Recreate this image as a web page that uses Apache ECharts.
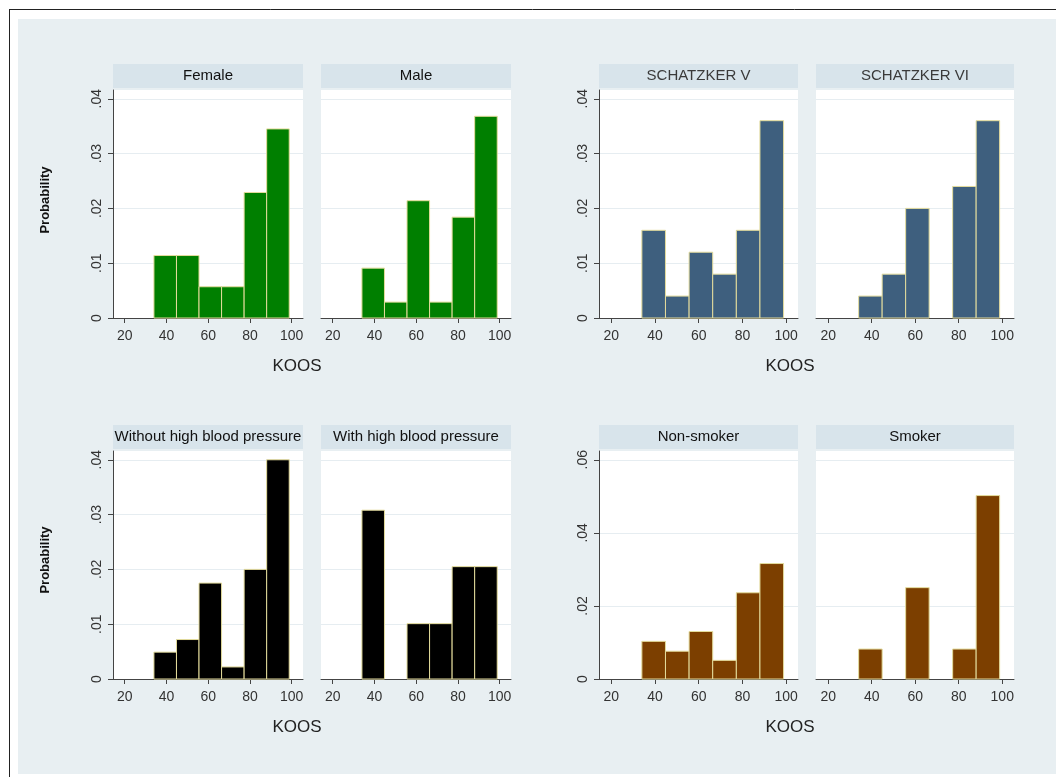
<!DOCTYPE html>
<html>
<head>
<meta charset="utf-8">
<script src="https://cdn.jsdelivr.net/npm/echarts@6/dist/echarts.min.js"></script>
<style>
  html, body { margin: 0; padding: 0; background: #fff; overflow: hidden; }
  #chart { width: 1056px; height: 777px; }
</style>
</head>
<body>
<div id="chart"></div>
<script>
// histogram bins (KOOS) and tick labels
var binEdges = [34, 44.8, 55.6, 66.4, 77.2, 88, 98.8];
var xTicks = [20, 40, 60, 80, 100];
var yTicks04 = [0, 0.01, 0.02, 0.03, 0.04];
var yTicks06 = [0, 0.02, 0.04, 0.06];

var panelNames = ['Female', 'Male', 'SCHATZKER V', 'SCHATZKER VI',
  'Without high blood pressure', 'With high blood pressure', 'Non-smoker', 'Smoker'];

// probability per bin
var female = [0.0114, 0.0114, 0.0057, 0.0057, 0.0229, 0.0345];
var male = [0.0091, 0.0029, 0.0214, 0.0029, 0.0184, 0.0368];
var schatzkerV = [0.016, 0.004, 0.012, 0.008, 0.016, 0.036];
var schatzkerVI = [0.004, 0.008, 0.020, 0, 0.024, 0.036];
var withoutHbp = [0.0049, 0.0072, 0.0175, 0.0022, 0.020, 0.040];
var withHbp = [0.0308, 0, 0.0101, 0.0101, 0.0205, 0.0205];
var nonSmoker = [0.0103, 0.0076, 0.013, 0.0051, 0.0236, 0.0316];
var smoker = [0.0082, 0, 0.025, 0, 0.0082, 0.0502];

var panelData = [female, male, schatzkerV, schatzkerVI, withoutHbp, withHbp, nonSmoker, smoker];
var barColors = ['#007f00', '#007f00', '#3e5f7e', '#3e5f7e', '#000000', '#000000', '#7c3f00', '#7c3f00'];

var cols = [{ left: 113, width: 190 }, { left: 321, width: 190 }, { left: 599, width: 199 }, { left: 816, width: 198 }];
var rows = [{ top: 90, height: 228 }, { top: 451, height: 228 }];
var fontFamily = '"Liberation Sans", Arial, sans-serif';

function fmtProb (v) {
  if (v === 0) return '0';
  return String(+v.toFixed(2)).replace(/^0/, '');
}

function renderBar (params, api) {
  var h = api.value(2);
  if (!h) return null;
  var p0 = api.coord([api.value(0), h]);
  var p1 = api.coord([api.value(1), 0]);
  return {
    type: 'rect',
    shape: { x: p0[0], y: p0[1], width: p1[0] - p0[0], height: p1[1] - p0[1] },
    style: { fill: api.visual('color'), stroke: '#e4dc9c', lineWidth: 1 }
  };
}

var grids = [], xAxes = [], yAxes = [], series = [];

// page frame: light background with black rule on the top and left
var graphics = [
  { type: 'rect', z: -10, shape: { x: 18, y: 19, width: 1038, height: 755 }, style: { fill: '#e8eff2' } },
  { type: 'line', z: -10, shape: { x1: 9, y1: 9.5, x2: 1056, y2: 9.5 }, style: { stroke: '#222', lineWidth: 1 } },
  { type: 'line', z: -10, shape: { x1: 9.5, y1: 9, x2: 9.5, y2: 777 }, style: { stroke: '#222', lineWidth: 1 } }
];

panelData.forEach(function (values, i) {
  var row = rows[i < 4 ? 0 : 1];
  var col = cols[i % 4];
  var firstOfPair = (i % 2 === 0);
  var yTicks = i >= 6 ? yTicks06 : yTicks04;
  var step = yTicks[1];
  var yMax = yTicks[yTicks.length - 1] * 1.04;

  grids.push({
    left: col.left, top: row.top, width: col.width, height: row.height,
    show: true, backgroundColor: '#ffffff', borderWidth: 0
  });

  xAxes.push({
    type: 'value', gridIndex: i, min: 14.4, max: 105.4,
    axisLine: { show: true, lineStyle: { color: '#444', width: 1 } },
    axisTick: { show: true, length: 5, customValues: xTicks, lineStyle: { color: '#444' } },
    axisLabel: { customValues: xTicks, margin: 11, fontSize: 14, color: '#333', fontFamily: fontFamily },
    splitLine: { show: false }
  });

  yAxes.push({
    type: 'value', gridIndex: i, min: 0, max: yMax, interval: step,
    axisLine: { show: firstOfPair, lineStyle: { color: '#444', width: 1 } },
    axisTick: { show: firstOfPair, length: 5, customValues: yTicks, lineStyle: { color: '#444' } },
    axisLabel: {
      show: firstOfPair, customValues: yTicks, rotate: 90, margin: 9,
      fontSize: 14, color: '#333', fontFamily: fontFamily, formatter: fmtProb
    },
    splitLine: { show: true, lineStyle: { color: '#e6edf1', width: 1 } }
  });

  series.push({
    type: 'custom',
    xAxisIndex: i, yAxisIndex: i,
    renderItem: renderBar,
    itemStyle: { color: barColors[i] },
    encode: { x: [0, 1], y: 2 },
    data: values.map(function (v, k) { return [binEdges[k], binEdges[k + 1], v]; })
  });

  // strip header
  graphics.push({
    type: 'rect', left: col.left, top: row.top - 26,
    shape: { width: col.width, height: 24 },
    style: { fill: '#d8e4eb' }
  });
  graphics.push({
    type: 'text', x: col.left + col.width / 2, y: row.top - 14,
    style: {
      text: panelNames[i], fontSize: 15, fontFamily: fontFamily,
      fill: (i === 2 || i === 3) ? '#3a3a3a' : '#111',
      textAlign: 'center', textVerticalAlign: 'middle'
    }
  });
});

// x titles and y titles
[[297, 366], [790, 366], [297, 727], [790, 727]].forEach(function (p) {
  graphics.push({
    type: 'text', x: p[0], y: p[1],
    style: { text: 'KOOS', fontSize: 17, fontFamily: fontFamily, fill: '#222', textAlign: 'center', textVerticalAlign: 'middle' }
  });
});
[200, 560].forEach(function (cy) {
  graphics.push({
    type: 'text', x: 45, y: cy, rotation: Math.PI / 2,
    style: { text: 'Probability', fontSize: 13, fontWeight: 'bold', fontFamily: fontFamily, fill: '#111', textAlign: 'center', textVerticalAlign: 'middle' }
  });
});

var myChart = echarts.init(document.getElementById('chart'));
myChart.setOption({
  animation: false,
  grid: grids,
  xAxis: xAxes,
  yAxis: yAxes,
  series: series,
  graphic: graphics
});
</script>
</body>
</html>
